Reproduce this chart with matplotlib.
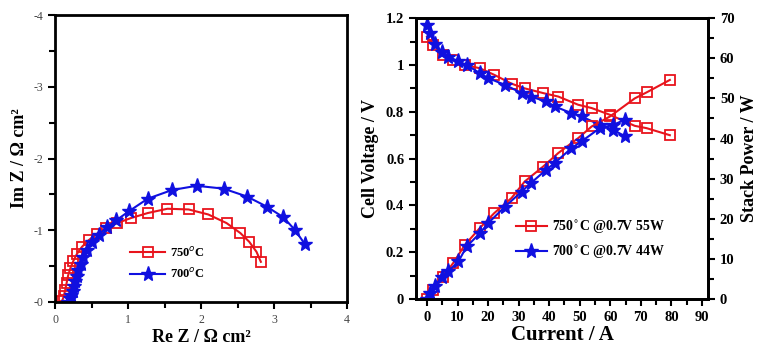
import matplotlib
matplotlib.use("Agg")
from matplotlib import pyplot as plt
from matplotlib.ticker import MultipleLocator
import numpy as np

plt.rcParams['font.family'] = ['Liberation Serif', 'DejaVu Serif']

# Nyquist data (Re Z, Im Z), Ohm cm2
re_750 = [0.10, 0.12, 0.14, 0.16, 0.18, 0.21, 0.25, 0.30, 0.37, 0.46, 0.57, 0.70, 0.85,
          1.04, 1.27, 1.54, 1.83, 2.10, 2.35, 2.54, 2.66, 2.76, 2.82]
im_750 = [-0.02, -0.08, -0.17, -0.27, -0.37, -0.47, -0.57, -0.67, -0.77, -0.86, -0.95, -1.03, -1.10,
          -1.17, -1.24, -1.30, -1.29, -1.22, -1.10, -0.96, -0.84, -0.70, -0.56]
re_700 = [0.18, 0.20, 0.22, 0.24, 0.26, 0.28, 0.30, 0.32, 0.35, 0.39, 0.44, 0.51, 0.60,
          0.71, 0.84, 1.02, 1.27, 1.60, 1.94, 2.31, 2.63, 2.90, 3.13, 3.29, 3.42]
im_700 = [-0.00, -0.05, -0.10, -0.16, -0.22, -0.29, -0.36, -0.44, -0.53, -0.63, -0.73, -0.83, -0.94,
          -1.04, -1.14, -1.27, -1.44, -1.56, -1.62, -1.58, -1.47, -1.33, -1.18, -1.00, -0.81]

# I-V-P data
cur_750 = [0, 2, 5.3, 8.6, 12.4, 17.3, 22, 27.7, 32, 38, 43, 49.5, 53.9, 59.9, 68, 71.9, 79.5]
volt_750 = [1.12, 1.086, 1.043, 1.02, 1.0, 0.986, 0.958, 0.92, 0.90, 0.88, 0.865, 0.83, 0.816,
            0.787, 0.74, 0.73, 0.70]
pow_750 = [0, 2.3, 5.6, 9.0, 13.5, 17.7, 21.4, 25.2, 29.3, 33.0, 36.4, 40.1, 43.0, 45.5, 50.0,
           51.5, 54.6]
cur_700 = [0, 1, 2.6, 4.8, 7, 10.3, 13, 17.3, 20, 25.5, 31, 34, 39, 41.8, 47.3, 50.6, 56.6, 61, 64.8]
volt_700 = [1.17, 1.136, 1.09, 1.057, 1.036, 1.015, 1.0, 0.965, 0.944, 0.915, 0.88, 0.865, 0.844,
            0.823, 0.794, 0.78, 0.744, 0.723, 0.695]
pow_700 = [0, 1.5, 3.2, 5.6, 6.9, 9.4, 13.1, 16.4, 18.9, 23.0, 26.8, 28.9, 32.2, 33.9, 37.6,
           39.3, 42.6, 43.4, 44.7]

red = '#e8141c'
blue = '#1010e0'

fig = plt.figure(figsize=(7.65, 3.56), dpi=100)

# ---- left: impedance ----
ax = fig.add_axes([0.0719, 0.1517, 0.3817, 0.806])
ax.plot(re_750, im_750, '-s', color=red, mfc='none', mec=red, ms=7.5, mew=1.3, lw=1.5, label='750$^{o}$C')
ax.plot(re_700, im_700, '-*', color=blue, mfc=blue, mec=blue, ms=11, lw=1.5, label='700$^{o}$C')
ax.set_xlim(0, 4)
ax.set_ylim(0, -4)
ax.set_xticks([0, 1, 2, 3, 4])
ax.set_yticks([0, -1, -2, -3, -4])
ax.set_yticklabels(['-0', '-1', '-2', '-3', '-4'])
ax.xaxis.set_minor_locator(MultipleLocator(0.5))
ax.yaxis.set_minor_locator(MultipleLocator(0.5))
ax.tick_params(which='both', direction='out', width=1.5, labelsize=8.5, labelcolor='#444444')
ax.tick_params(which='major', length=5)
ax.tick_params(which='minor', length=4)
for s in ax.spines.values():
    s.set_linewidth(2)
ax.set_xlabel('Re Z / Ω cm²', fontsize=13, fontweight='bold', labelpad=2)
ax.set_ylabel('Im Z / Ω cm²', fontsize=13, fontweight='bold', labelpad=4)
ax.legend(loc='upper left', bbox_to_anchor=(0.22, 0.235), frameon=False, handlelength=2.8,
          prop={'weight': 'bold', 'size': 9}, labelspacing=0.6, handletextpad=0.4)

# ---- right: I-V-P ----
bx = fig.add_axes([0.5438, 0.160, 0.3817, 0.789])
bx.plot(cur_750, volt_750, '-s', color=red, mfc='none', mec=red, ms=7.5, mew=1.3, lw=1.5)
bx.plot(cur_700, volt_700, '-*', color=blue, mfc=blue, mec=blue, ms=11, lw=1.5)
bx.set_xlim(-3.6, 92)
bx.set_ylim(0, 1.2)
bx.set_xticks(np.arange(0, 91, 10))
bx.set_yticks([0, 0.2, 0.4, 0.6, 0.8, 1.0, 1.2])
bx.set_yticklabels(['0', '0.2', '0.4', '0.6', '0.8', '1', '1.2'])
bx.xaxis.set_minor_locator(MultipleLocator(5))
bx.yaxis.set_minor_locator(MultipleLocator(0.1))

cx = bx.twinx()
cx.plot(cur_750, pow_750, '-s', color=red, mfc='none', mec=red, ms=7.5, mew=1.3, lw=1.5,
        label='750$^{\\circ}$C @0.7V 55W')
cx.plot(cur_700, pow_700, '-*', color=blue, mfc=blue, mec=blue, ms=11, lw=1.5,
        label='700$^{\\circ}$C @0.7V 44W')
cx.set_ylim(0, 70)
cx.set_yticks(np.arange(0, 71, 10))
cx.yaxis.set_minor_locator(MultipleLocator(5))

for a in (bx, cx):
    a.tick_params(which='both', direction='out', width=1.5, labelsize=10.5)
    a.tick_params(which='major', length=5)
    a.tick_params(which='minor', length=4)
    for lab in a.get_xticklabels() + a.get_yticklabels():
        lab.set_fontweight('bold')
    for s in a.spines.values():
        s.set_linewidth(2)

bx.set_xlabel('Current / A', fontsize=15, fontweight='bold', labelpad=1)
bx.set_ylabel('Cell Voltage / V', fontsize=13, fontweight='bold', labelpad=5)
cx.set_ylabel('Stack Power / W', fontsize=13, fontweight='bold', labelpad=5)
cx.legend(loc='upper left', bbox_to_anchor=(0.3, 0.33), frameon=False, handlelength=2.2,
          prop={'weight': 'bold', 'size': 10}, labelspacing=0.5, handletextpad=0.4)

fig.savefig('out.png', dpi=100)
